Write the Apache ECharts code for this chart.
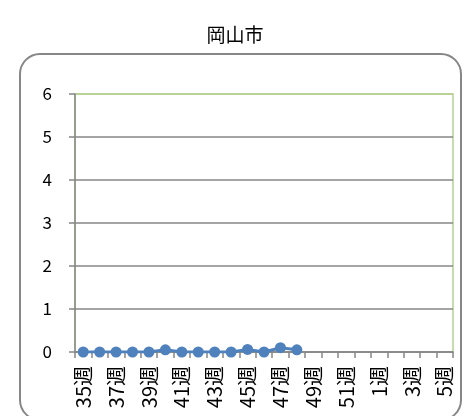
<!DOCTYPE html>
<html><head><meta charset="utf-8">
<script src="https://cdn.jsdelivr.net/npm/echarts@6/dist/echarts.min.js"></script>
<style>html,body{margin:0;padding:0;background:#fff;}#c{width:470px;height:416px;}</style>
</head><body><div id="c"></div>
<script>
var title = '岡山市';
var weeks = ['35週','36週','37週','38週','39週','40週','41週','42週','43週','44週','45週','46週','47週','48週','49週','50週','51週','52週','1週','2週','3週','4週','5週'];
var values = [0,0,0,0,0,0.05,0,0,0,0,0.06,0,0.1,0.05,null,null,null,null,null,null,null,null,null];
var yTicks = [0,1,2,3,4,5,6];

var font = '"Noto Sans CJK JP","Liberation Sans",sans-serif';
var chart = echarts.init(document.getElementById('c'), null, {renderer:'canvas'});
chart.setOption({
  animation:false,
  title:{text:title,left:'center',top:20,textStyle:{fontFamily:font,fontSize:19,fontWeight:'normal',color:'#000'}},
  graphic:[{type:'rect',shape:{x:20,y:54,width:441,height:366,r:20},style:{fill:'none',stroke:'#878787',lineWidth:2},silent:true,z:-1}],
  grid:{left:75,right:17,top:94,bottom:64,show:true,borderColor:'#b5cf92',borderWidth:1.5,backgroundColor:'transparent'},
  xAxis:{type:'category',data:weeks,boundaryGap:true,
    axisLine:{lineStyle:{color:'#878787',width:1.5}},
    axisTick:{show:true,interval:0,length:6,lineStyle:{color:'#878787',width:1.5}},
    axisLabel:{interval:1,rotate:90,color:'#000',fontFamily:font,fontSize:20,margin:14}},
  yAxis:{type:'value',min:yTicks[0],max:yTicks[yTicks.length-1],interval:1,
    axisLine:{show:true,lineStyle:{color:'#878787',width:1.5}},
    axisTick:{show:true,length:6,lineStyle:{color:'#878787',width:1.5}},
    axisLabel:{color:'#000',fontFamily:font,fontSize:17,margin:23}},
  series:[{type:'line',data:values,symbol:'circle',symbolSize:11,showAllSymbol:true,connectNulls:false,
    itemStyle:{color:'#4F81BD'},lineStyle:{color:'#4F81BD',width:3}}]
});
chart.setOption({yAxis:{splitLine:{show:true,lineStyle:{color:['#878787','#878787','#878787','#878787','#878787','#878787','#b5cf92'],width:1.5}}}});
</script></body></html>
